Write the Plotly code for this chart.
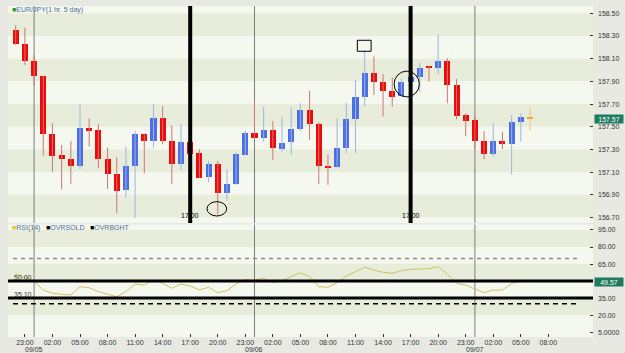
import plotly.graph_objects as go
import pandas as pd

# ---------------- data ----------------
start_time = "2012-09-04 22:00"
opens = [158.350, 158.227, 158.080, 157.950, 157.437, 157.252, 157.216, 157.155, 157.492, 157.472,
         157.216, 157.084, 156.943, 157.157, 157.437, 157.375, 157.575, 157.375, 157.172, 157.363,
         157.267, 157.058, 157.170, 156.914, 156.996, 157.252, 157.448, 157.399, 157.469, 157.304,
         157.363, 157.480, 157.648, 157.522, 157.157, 157.143, 157.316, 157.566, 157.760, 157.971,
         157.897, 157.818, 157.771, 157.897, 157.941, 158.028, 158.021, 158.080, 157.868, 157.604,
         157.560, 157.375, 157.260, 157.375, 157.348, 157.540, 157.583]
closes = [158.227, 158.080, 157.948, 157.434, 157.245, 157.216, 157.157, 157.487, 157.466, 157.214,
          157.082, 156.937, 157.155, 157.434, 157.375, 157.575, 157.375, 157.172, 157.363, 157.260,
          157.052, 157.170, 156.914, 156.996, 157.258, 157.443, 157.399, 157.472, 157.311, 157.360,
          157.480, 157.648, 157.522, 157.157, 157.143, 157.316, 157.569, 157.760, 157.971, 157.897,
          157.818, 157.765, 157.897, 157.941, 158.021, 158.018, 158.080, 157.868, 157.598, 157.551,
          157.375, 157.260, 157.375, 157.348, 157.545, 157.589, 157.570]
highs = [158.397, 158.373, 158.133, 157.950, 157.531, 157.340, 157.375, 157.700, 157.575, 157.522,
         157.316, 157.231, 157.325, 157.463, 157.440, 157.700, 157.683, 157.510, 157.525, 157.370,
         157.302, 157.199, 157.199, 157.128, 157.275, 157.466, 157.742, 157.677, 157.551, 157.589,
         157.672, 157.707, 157.818, 157.540, 157.258, 157.575, 157.712, 157.912, 158.170, 158.118,
         157.963, 157.933, 157.927, 157.950, 158.060, 158.036, 158.309, 158.104, 157.921, 157.619,
         157.589, 157.463, 157.531, 157.457, 157.604, 157.619, 157.668]
lows = [158.221, 158.045, 157.868, 157.245, 157.104, 156.949, 156.996, 157.128, 157.325, 157.134,
        156.952, 156.738, 156.875, 156.694, 157.090, 157.316, 157.346, 156.996, 157.119, 157.250,
        157.050, 157.011, 156.729, 156.846, 156.987, 157.245, 157.393, 157.369, 157.208, 157.280,
        157.252, 157.463, 157.384, 156.996, 156.987, 157.134, 157.267, 157.267, 157.677, 157.780,
        157.589, 157.677, 157.765, 157.890, 157.809, 157.897, 157.963, 157.707, 157.566, 157.419,
        157.304, 157.214, 157.237, 157.304, 157.082, 157.369, 157.466]
rsi = [56.5, 53.0, 49.5, 42.2, 39.3, 38.4, 37.8, 45.1, 44.2, 40.7,
       38.7, 36.3, 40.7, 47.5, 46.6, 51.0, 48.1, 43.7, 47.5, 45.7,
       42.2, 44.6, 39.8, 41.6, 47.5, 51.6, 51.0, 52.5, 48.6, 50.4,
       53.9, 57.4, 53.9, 45.1, 44.6, 48.6, 54.5, 58.3, 62.2, 59.8,
       57.8, 56.9, 59.2, 60.4, 60.7, 60.9, 62.7, 56.3, 48.1, 46.6,
       43.1, 39.8, 42.2, 42.2, 48.1, 49.9, 49.57]

time_tick_start = "2012-09-04 23:00"
time_tick_labels = ["23:00", "02:00", "05:00", "08:00", "11:00", "14:00", "17:00", "20:00",
                    "23:00", "02:00", "05:00", "08:00", "11:00", "14:00", "17:00", "20:00",
                    "23:00", "02:00", "05:00", "08:00"]
day_starts = ["2012-09-05 00:00", "2012-09-06 00:00", "2012-09-07 00:00"]
day_labels = ["09/05", "09/06", "09/07"]
marker_times = ["2012-09-05 17:00", "2012-09-06 17:00"]
marker_label = "17:00"

price_ticks = [156.70, 156.90, 157.10, 157.30, 157.50, 157.70, 157.90, 158.10, 158.30, 158.50]
rsi_ticks = [5, 20, 35, 65, 80, 95]
rsi_tick_labels = ["5.0000", "20.00", "35.00", "65.00", "80.00", "95.00"]
last_price = 157.57
last_rsi = 49.57
oversold_level = 35.10
overbought_level = 50.00
rsi_hi_dash = 70
rsi_lo_dash = 30

# ---------------- styling ----------------
FONT = "Liberation Sans, Arial, sans-serif"
RED, BLUE, ORANGE = "#ee0a0a", "#4a6fe6", "#f0a030"
RED_W, BLUE_W, ORANGE_W = "#cf7676", "#a2b4dc", "#f2c070"
DARK_BAND = "#e8eddb"
LIGHT_BAND = "#f5f8ee"
LBL = "#333333"
BLUEGRAY = "#4d6f9c"

times = pd.date_range(start_time, periods=len(opens), freq="h")
hour = pd.Timedelta(hours=1)
tickvals = pd.date_range(time_tick_start, periods=len(time_tick_labels), freq="3h")
xr = [times[0] - 0.84 * hour, times[-1] + 6.86 * hour]

n = len(opens)
body_colors, groups = [], {"r": ([], []), "b": ([], []), "o": ([], [])}
for i in range(n):
    if i == n - 1:
        k, c = "o", ORANGE
    elif closes[i] >= opens[i]:
        k, c = "b", BLUE
    else:
        k, c = "r", RED
    body_colors.append(c)
    xs, ys = groups[k]
    xs += [times[i], times[i], None]
    ys += [lows[i], highs[i], None]

fig = go.Figure()
for k, col in (("r", RED_W), ("b", BLUE_W), ("o", ORANGE_W)):
    fig.add_trace(go.Scatter(x=groups[k][0], y=groups[k][1], mode="lines",
                             line=dict(color=col, width=1), hoverinfo="skip",
                             xaxis="x", yaxis="y", showlegend=False))
fig.add_trace(go.Bar(x=times,
                     y=[max(abs(c - o), 0.009) for o, c in zip(opens, closes)],
                     base=[min(o, c) for o, c in zip(opens, closes)],
                     width=0.66 * 3600 * 1000,
                     marker=dict(color=body_colors, line=dict(width=0)),
                     xaxis="x", yaxis="y", showlegend=False))
fig.add_trace(go.Scatter(x=times, y=rsi, mode="lines",
                         line=dict(color="#d4bf62", width=1),
                         xaxis="x2", yaxis="y2", showlegend=False))

shapes = []
# price bands
for j in range(len(price_ticks) - 1, 0, -2):
    shapes.append(dict(type="rect", xref="x domain", yref="y", x0=0, x1=1,
                       y0=price_ticks[j - 1], y1=price_ticks[j],
                       fillcolor=DARK_BAND, line=dict(width=0), layer="below"))
# rsi bands
for lo_, hi_ in ((80, 95), (50, 65), (20, 35)):
    shapes.append(dict(type="rect", xref="x2 domain", yref="y2", x0=0, x1=1,
                       y0=lo_, y1=hi_, fillcolor=DARK_BAND, line=dict(width=0), layer="below"))
# day separator lines
for d in day_starts:
    for xa, ya in (("x", "y domain"), ("x2", "y2 domain")):
        shapes.append(dict(type="line", xref=xa, yref=ya, x0=d, x1=d, y0=0, y1=1,
                           line=dict(color="#7c7c7c", width=1), layer="below"))
# thick markers
for m in marker_times:
    shapes.append(dict(type="line", xref="x", yref="y domain", x0=m, x1=m, y0=0, y1=1,
                       line=dict(color="black", width=4), layer="above"))
# rsi level lines
shapes.append(dict(type="line", xref="x2 domain", yref="y2", x0=0.0085, x1=0.974,
                   y0=rsi_hi_dash, y1=rsi_hi_dash, line=dict(color="#8a8a8a", width=1.5, dash="4px,4px")))
shapes.append(dict(type="line", xref="x2 domain", yref="y2", x0=0.0085, x1=0.974,
                   y0=rsi_lo_dash, y1=rsi_lo_dash, line=dict(color="black", width=1.5, dash="5px,4px")))
for lv in (overbought_level, oversold_level):
    shapes.append(dict(type="line", xref="x2 domain", yref="y2", x0=0, x1=1,
                       y0=lv, y1=lv, line=dict(color="black", width=3)))
# hand drawn marks
shapes.append(dict(type="circle", xref="x", yref="y",
                   x0=times[42] - 0.8 * hour, x1=times[43] + 0.95 * hour,
                   y0=157.763, y1=157.99, line=dict(color="black", width=1)))
shapes.append(dict(type="circle", xref="x", yref="y",
                   x0=times[21] - 0.17 * hour, x1=times[23] - 0.03 * hour,
                   y0=156.714, y1=156.84, line=dict(color="black", width=1)))
shapes.append(dict(type="rect", xref="x", yref="y",
                   x0=times[38] - 0.8 * hour, x1=times[38] + 0.7 * hour,
                   y0=158.165, y1=158.262, line=dict(color="black", width=1)))

annotations = []
for m in marker_times:
    annotations.append(dict(x=m, xref="x", y=0, yref="y domain", yanchor="middle", yshift=8,
                            text=marker_label, showarrow=False,
                            font=dict(family=FONT, size=7, color="black")))
for d, lab in zip(day_starts, day_labels):
    annotations.append(dict(x=d, xref="x2", y=0, yref="paper", yanchor="middle", yshift=-12,
                            text=lab, showarrow=False, font=dict(family=FONT, size=7, color=LBL)))
annotations.append(dict(x=0, xref="paper", xanchor="left", xshift=2, y=1, yref="paper",
                        yanchor="middle", yshift=-4, showarrow=False,
                        text="<span style='color:#2aa02a'>■</span>EUR/JPY(1 hr. 5 day)",
                        font=dict(family=FONT, size=7, color=BLUEGRAY)))
for px, sq, txt in ((10, "#e2c23a", "RSI(14)"), (44, "#000000", "OVRSOLD"), (88, "#000000", "OVRBGHT")):
    annotations.append(dict(x=0, xref="paper", xanchor="left", xshift=px - 8, y=1, yref="y2 domain",
                            yanchor="middle", yshift=-3.5, showarrow=False,
                            text=f"<span style='color:{sq}'>■</span>{txt}",
                            font=dict(family=FONT, size=7, color=BLUEGRAY)))
for lv in (overbought_level, oversold_level):
    annotations.append(dict(x=0.006, xref="x2 domain", xanchor="left", y=lv, yref="y2",
                            yanchor="bottom", yshift=-2, showarrow=False, text=f"{lv:.2f}",
                            font=dict(family=FONT, size=7, color=LBL)))
for val, ya in ((last_price, "y"), (last_rsi, "y2")):
    annotations.append(dict(x=1, xref="paper", xanchor="left", xshift=1, y=val, yref=ya,
                            yanchor="middle", showarrow=False, text=f"{val:.2f}",
                            bgcolor="#1d7a5d", width=28, height=8, borderpad=0,
                            font=dict(family=FONT, size=7, color="white")))

axfont = dict(family=FONT, size=7, color=LBL)
fig.update_layout(
    width=625, height=353,
    margin=dict(l=8, r=32, t=6, b=16),
    paper_bgcolor="#e9e9e4", plot_bgcolor=LIGHT_BAND,
    showlegend=False, bargap=0,
    xaxis=dict(domain=[0, 1], anchor="y", range=xr, showticklabels=False, showgrid=False,
               zeroline=False, showline=False, ticks=""),
    xaxis2=dict(domain=[0, 1], anchor="y2", range=xr, tickvals=list(tickvals), ticktext=time_tick_labels,
                ticks="inside", ticklen=3, tickcolor=LBL, tickfont=axfont, showgrid=False,
                zeroline=False, showline=False),
    yaxis=dict(domain=[0.3444, 1], range=[156.652, 158.564], side="right", tickvals=price_ticks,
               ticktext=[f"{v:.2f}" for v in price_ticks], ticks="inside", ticklen=3, tickcolor=LBL,
               tickfont=axfont, showgrid=False, zeroline=False, ticklabelstandoff=4),
    yaxis2=dict(domain=[0, 0.3399], range=[0.87, 99.8], side="right", tickvals=rsi_ticks,
                ticktext=rsi_tick_labels, ticks="inside", ticklen=3, tickcolor=LBL,
                tickfont=axfont, showgrid=False, zeroline=False, ticklabelstandoff=4),
    shapes=shapes, annotations=annotations,
)
fig.write_html("out.html")
